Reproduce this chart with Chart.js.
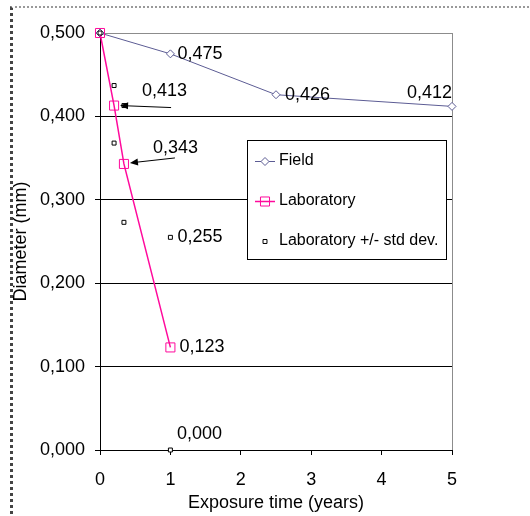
<!DOCTYPE html>
<html>
<head>
<meta charset="utf-8">
<title>Diameter vs exposure time</title>
<script src="https://cdn.jsdelivr.net/npm/chart.js@4.4.1/dist/chart.umd.min.js"></script>
<style>
  html, body { margin: 0; padding: 0; background: #fff; }
  #frame {
    position: absolute; left: 10px; top: 6px; width: 640px; height: 640px;
    border-left: 3px dotted #444; border-top: 2px dotted #999;
  }
  #diameterChart { position: absolute; left: 0; top: 0; }
</style>
</head>
<body>
<div id="frame"></div>
<canvas id="diameterChart" width="530" height="516"></canvas>
<script>
// exposure time (years) and wire diameter (mm)
const fieldYears = [0, 1, 2.5, 5];
const fieldDiameter = [0.500, 0.475, 0.426, 0.412];

const labYears = [0, 0.2, 0.34, 1];
const labDiameter = [0.500, 0.413, 0.343, 0.123];

const stdYears = [0, 0.2, 0.2, 0.34, 0.34, 1, 1];
const stdDiameter = [0.500, 0.437, 0.368, 0.413, 0.273, 0.255, 0.000];

const xTicks = [0, 1, 2, 3, 4, 5];
const yTicks = [0, 0.1, 0.2, 0.3, 0.4, 0.5];

const FONT = '"Liberation Sans", Arial, sans-serif';
const FIELD_COLOR = '#5c5c94';
const LAB_COLOR = '#ff0a9c';

const fmt = v => v.toFixed(3).replace('.', ',');
const toPoints = (xs, ys) => xs.map((x, i) => ({ x: x, y: ys[i] }));

// value labels, placed next to their point
const notes = [
  { xs: fieldYears, ys: fieldDiameter, i: 1, dx: 7, dy: 0, align: 'left' },
  { xs: fieldYears, ys: fieldDiameter, i: 2, dx: 9, dy: 0, align: 'left' },
  { xs: fieldYears, ys: fieldDiameter, i: 3, dx: 0, dy: -13, align: 'right' },
  { xs: labYears, ys: labDiameter, i: 1, dx: 28, dy: -15, align: 'left', arrow: [57, 2, 6, 0] },
  { xs: labYears, ys: labDiameter, i: 2, dx: 29, dy: -16, align: 'left', arrow: [51, -6, 6, -1] },
  { xs: labYears, ys: labDiameter, i: 3, dx: 9, dy: 0, align: 'left' },
  { xs: stdYears, ys: stdDiameter, i: 5, dx: 7, dy: 0, align: 'left' },
  { xs: stdYears, ys: stdDiameter, i: 6, dx: 29, dy: -16, align: 'center' }
];

function drawArrow(ctx, x0, y0, x1, y1) {
  const a = Math.atan2(y1 - y0, x1 - x0);
  ctx.beginPath();
  ctx.moveTo(x0, y0);
  ctx.lineTo(x1 - 6 * Math.cos(a), y1 - 6 * Math.sin(a));
  ctx.stroke();
  ctx.beginPath();
  ctx.moveTo(x1, y1);
  ctx.lineTo(x1 - 8 * Math.cos(a) + 3.5 * Math.sin(a), y1 - 8 * Math.sin(a) - 3.5 * Math.cos(a));
  ctx.lineTo(x1 - 8 * Math.cos(a) - 3.5 * Math.sin(a), y1 - 8 * Math.sin(a) + 3.5 * Math.cos(a));
  ctx.closePath();
  ctx.fill();
}

const pointLabels = {
  id: 'pointLabels',
  afterDatasetsDraw(chart) {
    const { ctx, scales: { x, y } } = chart;
    ctx.save();
    ctx.font = '18px ' + FONT;
    ctx.fillStyle = '#000';
    ctx.strokeStyle = '#000';
    ctx.lineWidth = 1;
    ctx.textBaseline = 'middle';
    notes.forEach(n => {
      const px = x.getPixelForValue(n.xs[n.i]);
      const py = y.getPixelForValue(n.ys[n.i]);
      ctx.textAlign = n.align;
      ctx.fillText(fmt(n.ys[n.i]), px + n.dx, py + n.dy);
      if (n.arrow) {
        drawArrow(ctx, px + n.arrow[0], py + n.arrow[1], px + n.arrow[2], py + n.arrow[3]);
      }
    });
    ctx.restore();
  }
};

// boxed legend sitting inside the plot area
const boxLegend = {
  id: 'boxLegend',
  afterDraw(chart) {
    const ctx = chart.ctx;
    const left = 247, top = 140, w = 199, h = 119;
    ctx.save();
    ctx.fillStyle = '#fff';
    ctx.fillRect(left, top, w, h);
    ctx.strokeStyle = '#000';
    ctx.lineWidth = 1;
    ctx.strokeRect(left + 0.5, top + 0.5, w, h);
    ctx.font = '16px ' + FONT;
    ctx.textBaseline = 'middle';
    ctx.textAlign = 'left';
    chart.data.datasets.forEach((ds, k) => {
      const cy = top + 21 + k * 40;
      const cx = left + 18;
      if (ds.showLine !== false) {
        ctx.strokeStyle = ds.borderColor;
        ctx.lineWidth = ds.borderWidth;
        ctx.beginPath();
        ctx.moveTo(cx - 10, cy + 0.5);
        ctx.lineTo(cx + 10, cy + 0.5);
        ctx.stroke();
      }
      ctx.strokeStyle = ds.pointBorderColor;
      ctx.fillStyle = ds.pointBackgroundColor;
      ctx.lineWidth = ds.pointBorderWidth;
      Chart.helpers.drawPoint(ctx, {
        pointStyle: ds.pointStyle, radius: ds.pointRadius,
        borderWidth: ds.pointBorderWidth, rotation: 0
      }, cx, cy + 0.5);
      ctx.fillStyle = '#000';
      ctx.fillText(ds.label, left + 32, cy);
    });
    ctx.restore();
  }
};

function drawChart() {
  const ctx = document.getElementById('diameterChart').getContext('2d');
  new Chart(ctx, {
    type: 'scatter',
    data: {
      datasets: [
        {
          label: 'Field',
          data: toPoints(fieldYears, fieldDiameter),
          showLine: true,
          borderColor: FIELD_COLOR,
          borderWidth: 1,
          pointStyle: 'rectRot',
          pointRadius: 4,
          pointBorderColor: FIELD_COLOR,
          pointBackgroundColor: '#fff',
          pointBorderWidth: 1,
          clip: false,
          order: 2
        },
        {
          label: 'Laboratory',
          data: toPoints(labYears, labDiameter),
          showLine: true,
          borderColor: LAB_COLOR,
          borderWidth: 1.5,
          pointStyle: 'rect',
          pointRadius: 6.4,
          pointBorderColor: LAB_COLOR,
          pointBackgroundColor: 'rgba(0,0,0,0)',
          pointBorderWidth: 1,
          clip: false,
          order: 1
        },
        {
          label: 'Laboratory +/- std dev.',
          data: toPoints(stdYears, stdDiameter),
          showLine: false,
          borderColor: '#000',
          pointStyle: 'rect',
          pointRadius: 2.8,
          pointBorderColor: '#000',
          pointBackgroundColor: '#fff',
          pointBorderWidth: 1,
          clip: false,
          order: 0
        }
      ]
    },
    options: {
      responsive: false,
      animation: false,
      layout: { padding: { top: 33, right: 78, left: 0, bottom: 0 } },
      plugins: {
        legend: { display: false },
        tooltip: { enabled: false }
      },
      scales: {
        x: {
          type: 'linear',
          min: 0,
          max: 5,
          afterBuildTicks: s => { s.ticks = xTicks.map(v => ({ value: v })); },
          afterFit: s => { s.height = 66; },
          border: { color: '#000', width: 1 },
          grid: {
            color: c => (c.tick && c.tick.value === 5 ? '#8c8c8c' : 'rgba(0,0,0,0)'),
            tickColor: '#000',
            tickLength: 5
          },
          ticks: {
            color: '#000',
            font: { family: FONT, size: 18 },
            padding: 14,
            maxRotation: 0
          },
          title: {
            display: true,
            text: 'Exposure time (years)',
            color: '#000',
            font: { family: FONT, size: 18 },
            padding: { top: 0, bottom: 2 }
          }
        },
        y: {
          type: 'linear',
          min: 0,
          max: 0.5,
          afterBuildTicks: s => { s.ticks = yTicks.map(v => ({ value: v })); },
          afterFit: s => { s.width = 100; },
          border: { color: '#000', width: 1 },
          grid: {
            color: c => (c.tick && c.tick.value > 0.49 ? '#8c8c8c' : '#000'),
            tickColor: '#000',
            tickLength: 5
          },
          ticks: {
            color: '#000',
            font: { family: FONT, size: 18 },
            padding: 10,
            callback: v => fmt(v)
          },
          title: {
            display: true,
            text: 'Diameter (mm)',
            color: '#000',
            font: { family: FONT, size: 18 },
            padding: { top: 10, bottom: 0 }
          }
        }
      }
    },
    plugins: [pointLabels, boxLegend]
  });
}

document.addEventListener('DOMContentLoaded', drawChart);
</script>
</body>
</html>
